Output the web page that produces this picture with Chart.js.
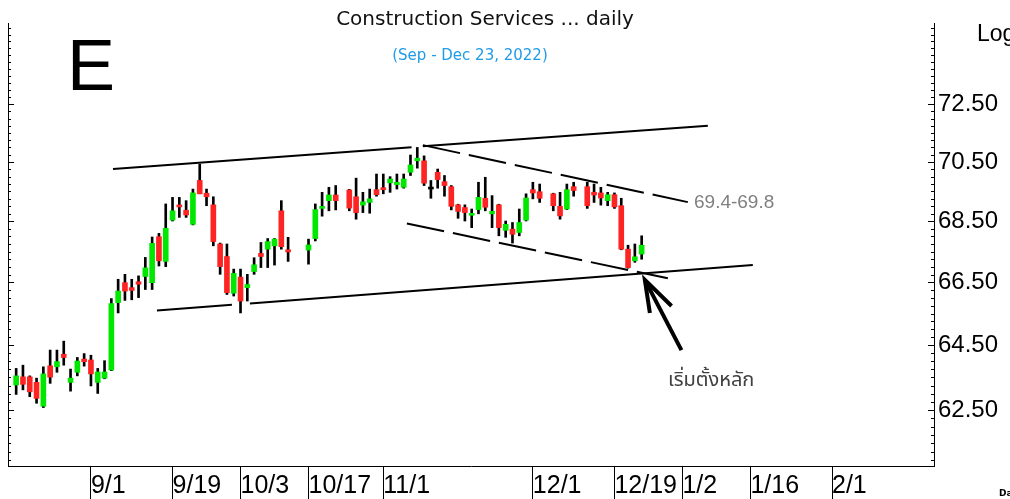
<!DOCTYPE html>
<html>
<head>
<meta charset="utf-8">
<script src="https://cdn.jsdelivr.net/npm/chart.js@4.4.1/dist/chart.umd.min.js"></script>
<style>
  html, body { margin: 0; padding: 0; background: #fff; }
</style>
</head>
<body>
<canvas id="chart" width="1010" height="499"></canvas>
<script>
// trading days start here, weekdays only, minus the exchange holidays
const startDate = '2022-08-17';
const originDate = '2022-09-01';
const holidays = ['2022-10-13', '2022-10-14', '2022-10-24', '2022-12-05', '2022-12-12'];

const open = [63.27, 63.52, 63.52, 63.35, 62.62, 63.86, 63.83, 64.22, 63.35, 63.66, 64.07,
  64.04, 63.35, 63.48, 63.73, 65.85, 66.49, 66.33, 66.52, 66.69, 66.49, 67.99, 67.18, 68.54,
  69.02, 68.87, 68.40, 69.87, 69.44, 69.05, 67.75, 67.34, 66.15, 66.67, 66.33, 66.85, 67.44,
  67.58, 67.69, 68.85, 67.56, 67.55, 67.93, 68.93, 69.19, 69.38, 69.55, 69.32, 69.04, 69.13,
  69.56, 69.62, 69.79, 69.73, 69.64, 70.15, 70.54, 70.54, 69.58, 70.15, 69.83, 69.66, 69.05,
  68.96, 68.70, 68.89, 69.27, 68.75, 69.05, 68.20, 68.24, 68.13, 68.54, 69.56, 69.49, 69.42,
  69.00, 68.91, 69.66, 69.66, 69.47, 69.45, 69.19, 69.39, 69.02, 67.58, 67.20, 67.42];
const high = [63.78, 63.88, 63.55, 63.48, 63.83, 64.35, 64.35, 64.63, 63.76, 64.12, 64.24,
  64.19, 63.78, 64.02, 65.98, 66.60, 66.76, 66.60, 66.71, 67.31, 67.98, 68.10, 69.08, 69.30,
  69.30, 69.19, 69.58, 70.43, 69.58, 69.32, 67.78, 67.75, 66.93, 66.93, 66.76, 67.30, 67.80,
  67.93, 67.93, 69.19, 67.97, 67.91, 69.08, 69.47, 69.64, 69.70, 69.57, 69.95, 69.47, 69.58,
  70.09, 70.09, 70.00, 70.09, 70.09, 70.74, 71.00, 70.71, 69.87, 70.26, 70.04, 69.70, 69.07,
  69.05, 68.91, 69.81, 69.98, 69.36, 69.07, 68.51, 68.46, 68.91, 69.42, 69.81, 69.75, 69.44,
  69.47, 69.75, 69.81, 69.81, 69.75, 69.64, 69.47, 69.45, 69.27, 67.71, 67.75, 68.02];
const low = [62.98, 63.12, 62.91, 62.71, 62.58, 63.32, 63.66, 63.88, 63.08, 63.55, 63.85,
  63.24, 63.01, 63.46, 63.71, 65.52, 65.92, 65.94, 66.01, 66.27, 66.27, 67.03, 67.01, 68.51,
  68.63, 68.63, 68.38, 69.42, 69.02, 67.69, 66.76, 66.11, 66.06, 65.52, 65.90, 66.76, 66.98,
  66.98, 67.06, 67.58, 67.18, 67.09, 67.85, 68.67, 68.85, 68.88, 68.85, 68.57, 68.79, 68.77,
  69.34, 69.42, 69.47, 69.58, 69.61, 70.04, 70.29, 69.70, 69.27, 69.61, 69.34, 68.88, 68.60,
  68.51, 68.29, 68.75, 68.85, 68.29, 68.02, 67.97, 67.78, 68.02, 68.51, 69.25, 69.13, 68.85,
  68.57, 68.89, 69.34, 68.93, 69.13, 69.04, 69.02, 68.93, 67.56, 66.96, 67.15, 67.25];
const close = [63.55, 63.29, 63.06, 62.86, 63.61, 63.51, 63.99, 64.12, 63.48, 64.01, 63.99,
  63.61, 63.67, 63.67, 65.82, 66.22, 66.22, 66.24, 66.44, 66.97, 67.77, 67.20, 68.27, 68.85,
  68.98, 68.71, 69.45, 69.42, 69.32, 67.83, 67.01, 66.17, 66.79, 65.90, 66.43, 67.07, 67.34,
  67.83, 67.91, 67.66, 67.49, 67.72, 68.89, 68.98, 69.38, 69.19, 68.94, 68.79, 69.15, 69.25,
  69.39, 69.56, 69.92, 69.81, 69.92, 70.40, 70.63, 69.78, 69.58, 69.90, 69.70, 69.00, 68.83,
  68.79, 68.75, 69.30, 68.97, 68.83, 68.29, 68.40, 68.07, 68.46, 69.28, 69.45, 69.27, 69.02,
  68.68, 69.56, 69.53, 69.02, 69.38, 69.28, 69.39, 68.98, 67.58, 66.98, 67.33, 67.71];

// x axis labels
const tickDates = ['2022-09-01', '2022-09-19', '2022-10-03', '2022-10-17', '2022-11-01',
  '2022-12-01', '2022-12-19', '2023-01-02', '2023-01-16', '2023-02-01'];
const tickLabels = ['9/1', '9/19', '10/3', '10/17', '11/1', '12/1', '12/19', '1/2', '1/16', '2/1'];
const priceLabels = [62.5, 64.5, 66.5, 68.5, 70.5, 72.5];

// hand drawn lines, [weekday offset from 9/1, price]
const channelTop1 = [[3.24, 70.26], [47.16, 71.01]];
const channelTop2 = [[48.82, 71.04], [90.74, 71.75]];
const channelBottom1 = [[9.71, 65.60], [20.74, 65.78]];
const channelBottom2 = [[23.38, 65.82], [97.35, 67.06]];
const dashTop = [[48.82, 71.08], [87.79, 69.14]];
const dashBottom = [[46.47, 68.43], [84.85, 66.63]];
const arrowShaft = [[86.85, 64.35], [81.47, 66.58]];
const arrowHead = [[82.21, 65.52], [81.47, 66.58], [85.40, 65.74]];

// weekday numbering
const dayIndex = {};
(function () {
  let d = new Date(startDate + 'T00:00:00Z');
  let n = 0;
  for (let k = 0; k < 260; k++) {
    const wd = d.getUTCDay();
    if (wd !== 0 && wd !== 6) {
      dayIndex[d.toISOString().slice(0, 10)] = n;
      n++;
    }
    d = new Date(d.getTime() + 86400000);
  }
})();
const origin = dayIndex[originDate];

const tradeX = [];
Object.keys(dayIndex).forEach(k => {
  if (tradeX.length < open.length && !holidays.includes(k)) tradeX.push(dayIndex[k] - origin);
});
const tickX = tickDates.map(d => dayIndex[d] - origin);

const GREEN = '#00e800';
const RED = '#ff2424';
const candleColor = open.map((o, i) => close[i] > o ? GREEN : close[i] < o ? RED : '#000');

const toPts = arr => arr.map(p => ({x: p[0], y: p[1]}));
const lineDs = (arr, width, dash) => ({
  type: 'line',
  data: toPts(arr),
  borderColor: '#000',
  borderWidth: width,
  borderDash: dash || [],
  pointRadius: 0,
  fill: false,
  tension: 0,
  order: 0
});

const axisTicks = {
  id: 'axisTicks',
  afterDraw(chart) {
    const {ctx, chartArea: a} = chart;
    const y = chart.scales.y;
    ctx.save();
    ctx.strokeStyle = '#000';
    ctx.lineWidth = 1;
    ctx.beginPath();
    ctx.moveTo(a.left + 0.5, a.top);
    ctx.lineTo(a.left + 0.5, a.bottom);
    y.ticks.forEach(t => {
      const py = Math.round(y.getPixelForValue(t.value)) + 0.5;
      const len = priceLabels.includes(t.value) ? 6 : 3;
      ctx.moveTo(a.left, py);
      ctx.lineTo(a.left + len, py);
      ctx.moveTo(a.right, py);
      ctx.lineTo(a.right - len, py);
    });
    ctx.stroke();
    ctx.restore();
  }
};

const notes = {
  id: 'notes',
  afterDraw(chart) {
    const ctx = chart.ctx;
    ctx.save();
    ctx.textBaseline = 'alphabetic';
    ctx.fillStyle = '#111';
    ctx.textAlign = 'center';
    ctx.font = '20px "DejaVu Sans", sans-serif';
    ctx.fillText('Construction Services ... daily', 485, 25);
    ctx.fillStyle = '#1e9be9';
    ctx.font = '15px "DejaVu Sans", sans-serif';
    ctx.fillText('(Sep - Dec 23, 2022)', 470, 60);
    ctx.textAlign = 'left';
    ctx.fillStyle = '#000';
    ctx.font = '72px "Liberation Sans", Arial, sans-serif';
    ctx.fillText('E', 67, 90);
    ctx.font = '23px "Liberation Sans", Arial, sans-serif';
    ctx.fillText('Log', 977, 41);
    ctx.font = 'bold 9px "DejaVu Sans", sans-serif';
    ctx.fillText('Da', 999, 496);
    ctx.fillStyle = '#808080';
    ctx.font = '19px "Liberation Sans", Arial, sans-serif';
    ctx.fillText('69.4-69.8', 694, 208);
    ctx.fillStyle = '#404040';
    ctx.font = '20px "Noto Sans Thai", Loma, Garuda, Tahoma, "Noto Sans", sans-serif';
    ctx.fillText('เริ่มตั้งหลัก', 668, 386);
    ctx.restore();
  }
};

Chart.defaults.font.family = '"Liberation Sans", Arial, sans-serif';

new Chart(document.getElementById('chart'), {
  type: 'bar',
  data: {
    datasets: [
      {
        type: 'bar',
        data: tradeX.map((x, i) => ({x: x, y: [low[i], high[i]]})),
        backgroundColor: '#000',
        barThickness: 2,
        grouped: false,
        order: 3
      },
      {
        type: 'bar',
        data: tradeX.map((x, i) => ({x: x, y: [open[i], close[i]]})),
        backgroundColor: candleColor,
        barThickness: 5,
        minBarLength: 2,
        grouped: false,
        order: 2
      },
      lineDs(channelTop1, 2),
      lineDs(channelTop2, 2),
      lineDs(channelBottom1, 2),
      lineDs(channelBottom2, 2),
      lineDs(dashTop, 2, [38, 9]),
      lineDs(dashBottom, 2, [38, 9]),
      lineDs(arrowShaft, 4),
      lineDs(arrowHead, 4)
    ]
  },
  options: {
    responsive: false,
    animation: false,
    layout: {padding: {top: 23, left: 8, right: 0, bottom: 0}},
    plugins: {legend: {display: false}, tooltip: {enabled: false}},
    scales: {
      x: {
        type: 'linear',
        min: -12.2,
        max: 124,
        offset: false,
        afterBuildTicks: (axis) => { axis.ticks = tickX.map(v => ({value: v})); },
        afterFit: (axis) => { axis.height = 33; },
        grid: {offset: false, drawOnChartArea: false, drawTicks: true, tickLength: 33, color: '#000', lineWidth: 1},
        border: {display: true, color: '#000', width: 1},
        ticks: {
          autoSkip: false,
          maxRotation: 0,
          align: 'start',
          padding: -28,
          color: '#000',
          font: {size: 25},
          callback: (v, i) => tickLabels[i]
        }
      },
      y: {
        type: 'logarithmic',
        position: 'right',
        min: 60.83,
        max: 75.42,
        afterBuildTicks: (axis) => {
          const t = [];
          for (let v = 60.75; v <= 75.5; v += 0.25) {
            const r = +v.toFixed(2);
            if (r >= axis.min && r <= axis.max) t.push({value: r});
          }
          axis.ticks = t;
        },
        afterFit: (axis) => { axis.width = 76; },
        grid: {display: false, drawTicks: false},
        border: {display: true, color: '#000', width: 1},
        ticks: {
          autoSkip: false,
          padding: 4,
          color: '#000',
          font: {size: 24},
          callback: (v) => priceLabels.includes(v) ? v.toFixed(2) : ''
        }
      }
    }
  },
  plugins: [axisTicks, notes]
});
</script>
</body>
</html>
